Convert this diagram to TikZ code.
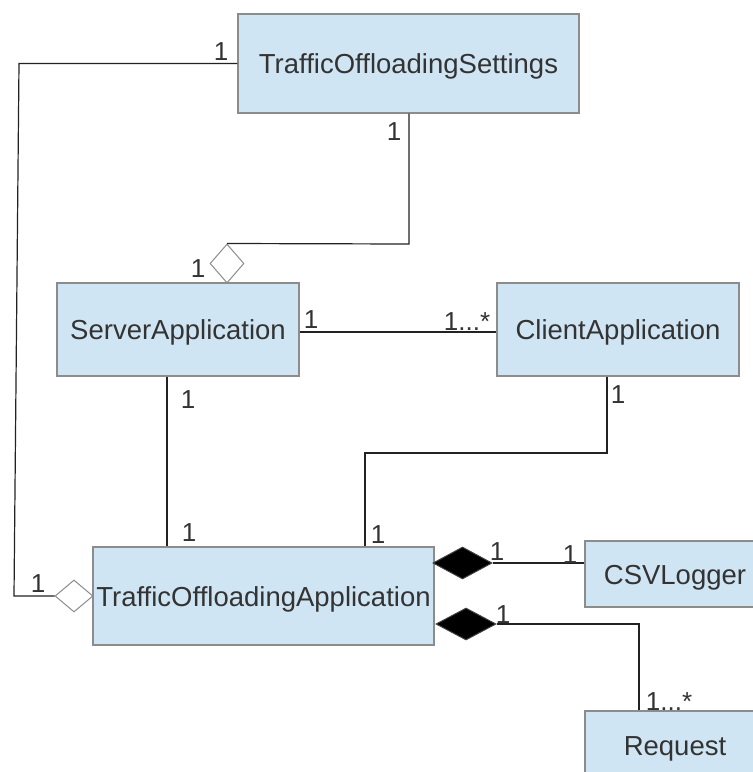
\documentclass[tikz,border=0pt]{standalone}
\usepackage{fontspec}
\setmainfont[Ligatures=NoCommon]{Liberation Sans}
\usetikzlibrary{shapes.geometric}
\definecolor{boxfill}{HTML}{D0E5F3}
\definecolor{boxline}{HTML}{8C8C8C}
\definecolor{txt}{HTML}{333333}
\definecolor{connc}{HTML}{222222}
\begin{document}
\begin{tikzpicture}[x=1pt,y=-1pt,
  cls/.style={draw=boxline, line width=1.3pt, fill=boxfill, text=txt,
    font=\fontsize{27.5}{33}\selectfont, inner sep=0pt, text height=20pt, text depth=0pt},
  mult/.style={text=txt, font=\fontsize{26}{31}\selectfont, anchor=base, inner sep=0pt},
  connl/.style={draw=connc, line width=1.2pt},
  odia/.style={diamond, draw=boxline, fill=white, line width=1pt, inner sep=0pt},
  fdia/.style={diamond, draw=black!75, fill=black, line width=1pt, inner sep=0pt}]
\useasboundingbox (0,0) rectangle (753,772);
\clip (0,0) rectangle (753,772);

% classes
\node[cls, minimum width=341, minimum height=99] (tos) at (408.5,63.5) {TrafficOffloadingSettings};
\node[cls, minimum width=242, minimum height=93] (srv) at (178,329.5) {ServerApplication};
\node[cls, minimum width=242, minimum height=93] (cli) at (618,329.5) {ClientApplication};
\node[cls, minimum width=341, minimum height=98] (toa) at (263.5,596) {TrafficOffloadingApplication};
\node[cls, minimum width=180, minimum height=66] (csv) at (675,574) {CSVLogger};
\node[cls, minimum width=180, minimum height=68] (req) at (675,745) {Request};

% diamonds
\node[odia, minimum width=38, minimum height=32] (d1) at (74,596) {};
\node[odia, minimum width=34, minimum height=39] (d2) at (227,263.5) {};
\node[fdia, minimum width=59, minimum height=32] (d3) at (462.5,563) {};
\node[fdia, minimum width=60, minimum height=32] (d4) at (466,624) {};

% helper coordinates
\coordinate (lt) at (19,63.5);
\coordinate (lb) at (14,596);
\coordinate (tb) at (409,244);
\coordinate (sy) at (0,332);
\coordinate (sx) at (167,0);
\coordinate (c1) at (607,453);
\coordinate (c2) at (365,453);
\coordinate (r1) at (639,624);

% connectors
\draw[connl] (tos.west) -- (lt) -- (lb) -- (d1.west);
\draw[connl] (tos.south -| tb) -- (tb) -- (d2.north);
\draw[connl] (srv.east |- sy) -- (cli.west |- sy);
\draw[connl] (srv.south -| sx) -- (toa.north -| sx);
\draw[connl] (cli.south -| c1) -- (c1) -- (c2) -- (toa.north -| c2);
\draw[connl] (d3.east) -- (csv.west |- d3.east);
\draw[connl] (d4.east) -- (r1) -- (req.north -| r1);

% multiplicities
\node[mult] (m1) at (221,60) {1};
\node[mult] (m2) at (38,592) {1};
\node[mult] (m3) at (394,140) {1};
\node[mult] (m4) at (198,277) {1};
\node[mult] (m5) at (311,328) {1};
\node[mult] (m6) at (467,330) {1...*};
\node[mult] (m7) at (188,408) {1};
\node[mult] (m8) at (189,541) {1};
\node[mult] (m9) at (618,403) {1};
\node[mult] (m10) at (378,543) {1};
\node[mult] (m11) at (497,560) {1};
\node[mult] (m12) at (570,563) {1};
\node[mult] (m13) at (503,623) {1};
\node[mult] (m14) at (669,710) {1...*};
\end{tikzpicture}
\end{document}
